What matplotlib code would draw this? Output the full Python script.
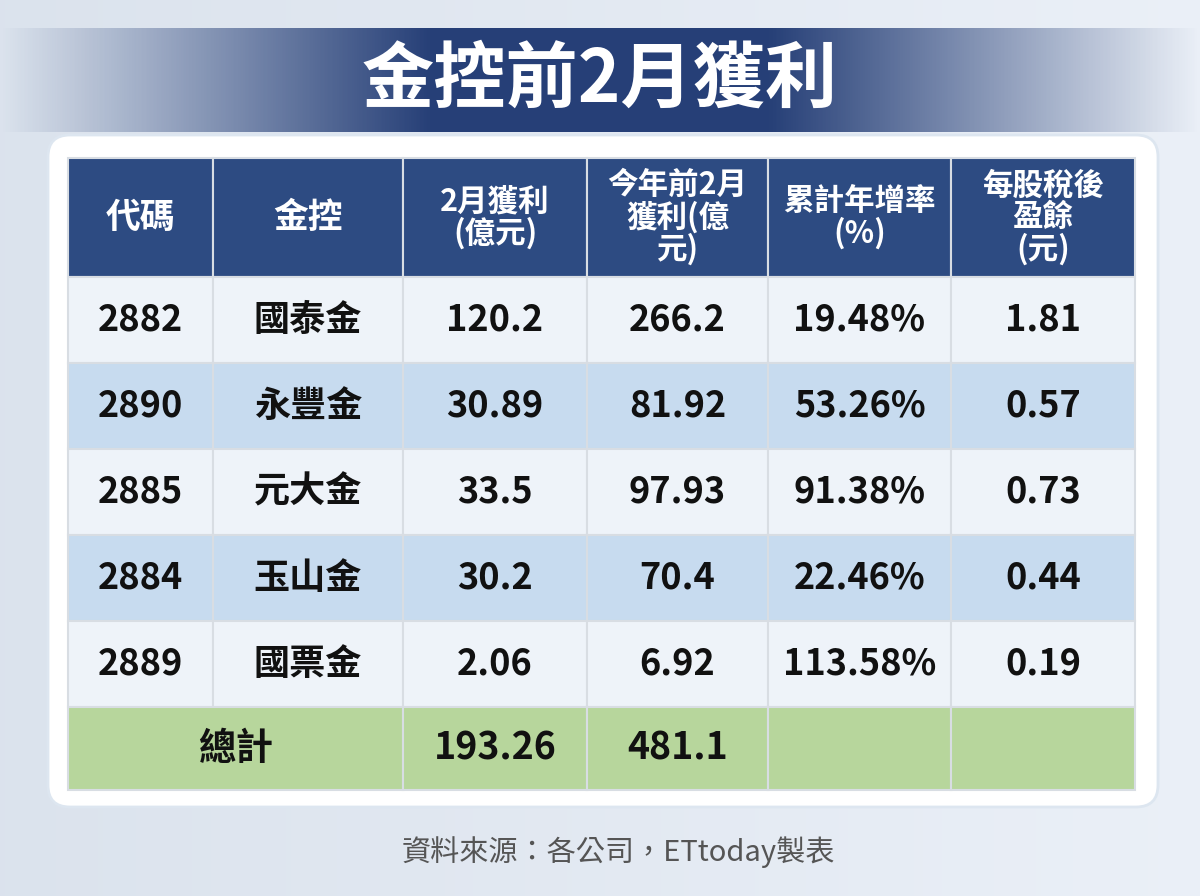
import matplotlib
matplotlib.use("Agg")
import matplotlib.pyplot as plt
from matplotlib.patches import Rectangle, FancyBboxPatch
import numpy as np

plt.rcParams['font.family'] = ['Noto Sans CJK TC', 'DejaVu Sans']

title = "金控前2月獲利"
headers = ["代碼", "金控", "2月獲利\n(億元)", "今年前2月\n獲利(億\n元)", "累計年增率\n(%)", "每股稅後\n盈餘\n(元)"]
codes = ["2882", "2890", "2885", "2884", "2889"]
names = ["國泰金", "永豐金", "元大金", "玉山金", "國票金"]
feb_profit = ["120.2", "30.89", "33.5", "30.2", "2.06"]
ytd_profit = ["266.2", "81.92", "97.93", "70.4", "6.92"]
growth = ["19.48%", "53.26%", "91.38%", "22.46%", "113.58%"]
eps = ["1.81", "0.57", "0.73", "0.44", "0.19"]
total_label = "總計"
total_feb = "193.26"
total_ytd = "481.1"
source = "資料來源：各公司，ETtoday製表"

fig = plt.figure(figsize=(12, 8.96), dpi=100)
ax = fig.add_axes([0, 0, 1, 1])
ax.set_xlim(0, 1200); ax.set_ylim(896, 0); ax.axis('off')

g = np.linspace(0, 1, 256).reshape(1, -1)
bg = np.stack([0.86 + 0.06*g, 0.89 + 0.05*g, 0.93 + 0.04*g], axis=-1)[0]
ax.imshow(np.tile(bg[None, :, :], (10, 1, 1)), extent=[0, 1200, 896, 0], aspect='auto', zorder=0)

gb = np.abs(np.linspace(-1, 1, 400))
alpha = np.clip(1.4 - gb*1.4, 0, 1)
band = np.zeros((1, 400, 4))
band[..., 0] = 0.15; band[..., 1] = 0.25; band[..., 2] = 0.47; band[..., 3] = alpha
ax.imshow(band, extent=[0, 1200, 132, 28], aspect='auto', zorder=1)
ax.text(600, 80, title, ha='center', va='center', color='white', fontsize=52, fontweight='bold', zorder=3)

card = FancyBboxPatch((48, 135), 1110, 672, boxstyle="round,pad=0,rounding_size=22",
                      fc='white', ec='#dde6f0', lw=2, zorder=2)
ax.add_patch(card)

xs = [68, 213, 403, 587, 768, 951, 1135]
ys = [158, 277, 363, 449, 535, 621, 707, 790]
header_c = '#2d4b82'
row_c = ['#eef3f9', '#c7dbef']
green = '#b7d69c'
edge = '#d8dde3'

hsizes = [25, 25, 22, 22, 22, 22]
for j in range(6):
    ax.add_patch(Rectangle((xs[j], ys[0]), xs[j+1]-xs[j], ys[1]-ys[0], fc=header_c, ec=edge, lw=1.5, zorder=3))
    ax.text((xs[j]+xs[j+1])/2, (ys[0]+ys[1])/2, headers[j], ha='center', va='center', color='white',
            fontsize=hsizes[j], fontweight='bold', linespacing=1.0, zorder=4)

cols = [codes, names, feb_profit, ytd_profit, growth, eps]
for i in range(5):
    for j in range(6):
        ax.add_patch(Rectangle((xs[j], ys[i+1]), xs[j+1]-xs[j], ys[i+2]-ys[i+1], fc=row_c[i % 2], ec=edge, lw=1.5, zorder=3))
        ax.text((xs[j]+xs[j+1])/2, (ys[i+1]+ys[i+2])/2, cols[j][i], ha='center', va='center',
                color='#111111', fontsize=26, fontweight='bold', zorder=4)

yt0, yt1 = ys[6], ys[7]
ax.add_patch(Rectangle((xs[0], yt0), xs[2]-xs[0], yt1-yt0, fc=green, ec=edge, lw=1.5, zorder=3))
for j in range(2, 6):
    ax.add_patch(Rectangle((xs[j], yt0), xs[j+1]-xs[j], yt1-yt0, fc=green, ec=edge, lw=1.5, zorder=3))
ym = (yt0+yt1)/2
for xc, t in [((xs[0]+xs[2])/2, total_label), ((xs[2]+xs[3])/2, total_feb), ((xs[3]+xs[4])/2, total_ytd)]:
    ax.text(xc, ym, t, ha='center', va='center', fontsize=27, fontweight='bold', color='#111111', zorder=4)

ax.text(618, 852, source, ha='center', va='center', fontsize=21, color='#555555', zorder=4)

fig.savefig("out.png", dpi=100)
